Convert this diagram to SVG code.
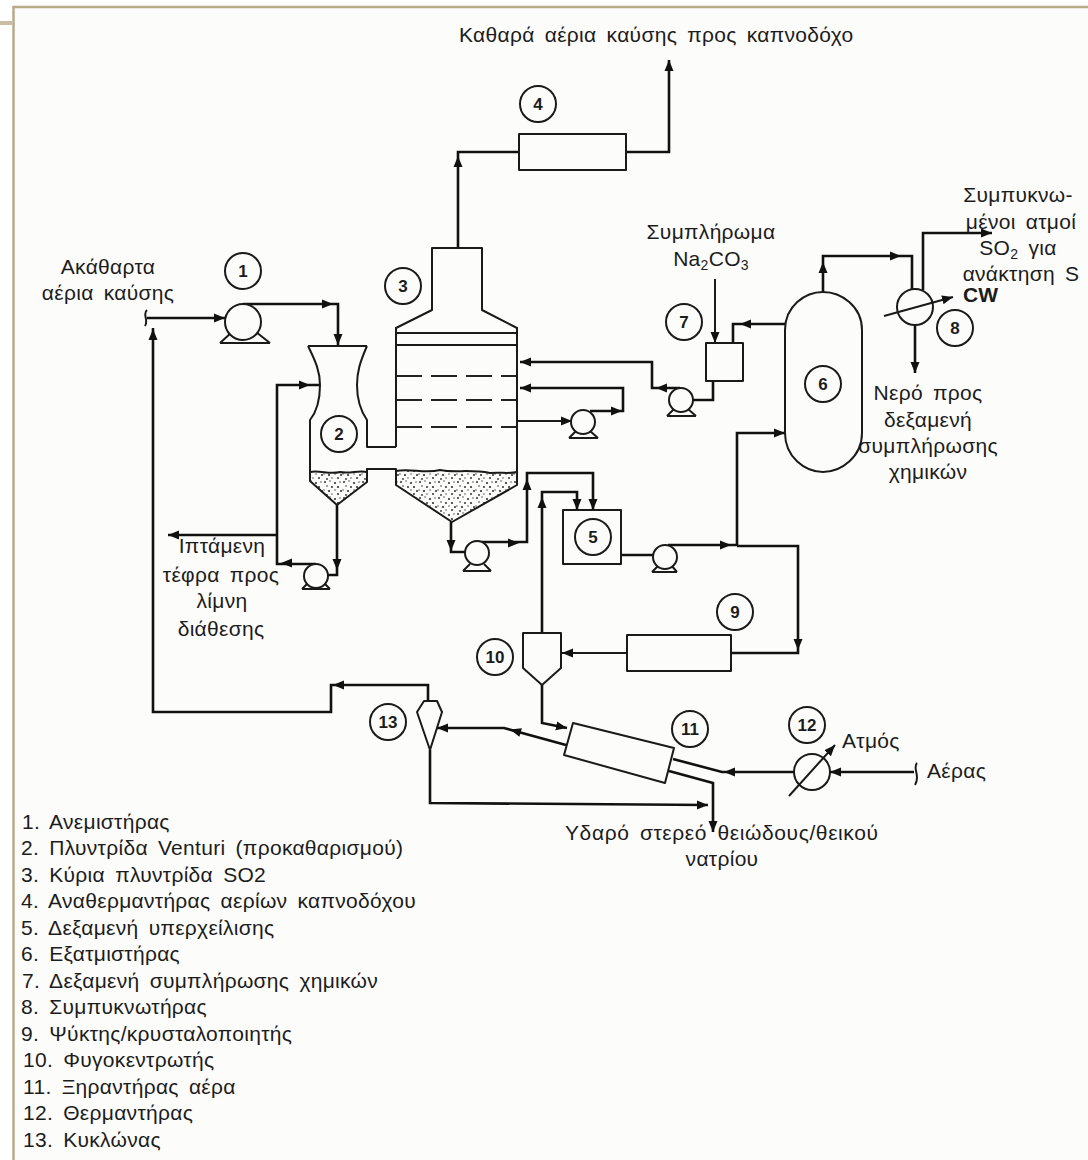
<svg xmlns="http://www.w3.org/2000/svg" width="1088" height="1160" viewBox="0 0 1088 1160">
<style>
text{font-family:"Liberation Sans","DejaVu Sans",sans-serif;font-size:21px;fill:#1c1c1c;letter-spacing:.3px;word-spacing:4px}
.m{text-anchor:middle}
.n{font-size:17px;text-anchor:middle;font-weight:bold;letter-spacing:0}
.s{fill:none;stroke:#1a1a1a;stroke-width:2;stroke-linejoin:round}
.c{fill:#fcfcfb;stroke:#1a1a1a;stroke-width:2}
.o{fill:none;stroke:#1a1a1a;stroke-width:2}
.p{fill:none;stroke:#111;stroke-width:2.6;stroke-linejoin:miter}
.d{fill:none;stroke:#222;stroke-width:2;stroke-dasharray:26 9}
.sub{font-size:14px}
</style>
<defs>
<path id="a" d="M-9-4.500L2 0L-9 4.500z" fill="#111"/>
<marker id="e" markerUnits="userSpaceOnUse" markerWidth="14" markerHeight="12" refX="11" refY="6" orient="auto"><path d="M0 1.500L11 6L0 10.500z" fill="#111"/></marker>
<pattern id="st" width="19" height="16" patternUnits="userSpaceOnUse">
<g fill="#333"><circle cx="2" cy="2" r="1"/><circle cx="7" cy="1" r=".7"/><circle cx="12" cy="3" r="1.100"/><circle cx="17" cy="2" r=".7"/><circle cx="4" cy="6" r=".8"/><circle cx="9" cy="7" r="1"/><circle cx="15" cy="7" r="1.100"/><circle cx="1" cy="10" r=".7"/><circle cx="6" cy="11" r="1.100"/><circle cx="12" cy="10" r=".7"/><circle cx="18" cy="11" r="1"/><circle cx="4" cy="15" r=".9"/><circle cx="9" cy="14" r=".7"/><circle cx="15" cy="14" r="1"/></g>
</pattern>
</defs>
<rect width="1088" height="1160" fill="#fff"/>
<rect x="14" y="8" width="1074" height="1152" fill="#fcfcfb"/>
<path d="M13.500 1160V7H1088" fill="none" stroke="#b9ab8a" stroke-width="2.500"/>
<path d="M0 23H13" fill="none" stroke="#cabfa5" stroke-width="4"/>

<g id="connectors">
<path class="p" d="M147 318H225" marker-end="url(#e)"/>
<path class="p" d="M243 304H338V345" marker-end="url(#e)"/>
<use href="#a" transform="translate(331 304)"/>
<path class="p" d="M153 328V712H331V685H428V701"/>
<use href="#a" transform="translate(153 331) rotate(-90)"/>
<use href="#a" transform="translate(335 685) rotate(180)"/>
<path class="p" d="M337 505V575H327"/>
<use href="#a" transform="translate(337 568) rotate(90)"/>
<path class="p" d="M316 564H277V385H320" />
<use href="#a" transform="translate(308 385)"/>
<use href="#a" transform="translate(283 563) rotate(180)"/>
<path class="p" d="M277 535H168" marker-end="url(#e)"/>
<path class="p" d="M451 522V552H465"/>
<use href="#a" transform="translate(451 549) rotate(90)"/>
<path class="p" d="M477 542H527V473H593V510" marker-end="url(#e)"/>
<use href="#a" transform="translate(517 543)"/>
<use href="#a" transform="translate(527 481) rotate(-90)"/>
<path class="p" d="M542 633V492H577V510" marker-end="url(#e)"/>
<use href="#a" transform="translate(542 499) rotate(-90)"/>
<path class="o" d="M517 421H572" marker-end="url(#e)"/>
<path class="p" d="M590 411H623V388H520" marker-end="url(#e)"/>
<use href="#a" transform="translate(620 411)"/>
<path class="p" d="M693 400H713V381"/>
<path class="p" d="M680 388H652V362H520" marker-end="url(#e)"/>
<use href="#a" transform="translate(658 388) rotate(180)"/>
<path class="o" d="M715 279V343" marker-end="url(#e)"/>
<path class="p" d="M785 324H733V343"/>
<use href="#a" transform="translate(742 324) rotate(180)"/>
<path class="p" d="M621 555H654"/>
<path class="p" d="M668 545H737V433H785" marker-end="url(#e)"/>
<use href="#a" transform="translate(729 545)"/>
<path class="p" d="M737 546H798V653H731"/>
<use href="#a" transform="translate(798 648) rotate(90)"/>
<path class="o" d="M627 653H562" marker-end="url(#e)"/>
<path class="p" d="M542 685V723L567 728" marker-end="url(#e)"/>
<path class="p" d="M566 745L504 728H437" marker-end="url(#e)"/>
<use href="#a" transform="translate(512 730) rotate(196)"/>
<path class="p" d="M795 772H722L673 759"/>
<use href="#a" transform="translate(726 772) rotate(180)"/>
<path class="p" d="M669 771L713 783V832" marker-end="url(#e)"/>
<path class="p" d="M430 750V803L708 805" marker-end="url(#e)"/>
<path class="p" d="M914 772H830" marker-end="url(#e)"/>
<path class="p" d="M823 292V256H912V290"/>
<use href="#a" transform="translate(823 264) rotate(-90)"/>
<use href="#a" transform="translate(899 256)"/>
<path class="p" d="M923 290V233H992" marker-end="url(#e)"/>
<path class="p" d="M915 325V373" marker-end="url(#e)"/>
<path class="o" d="M884 316L953 297" marker-end="url(#e)"/>
<path class="o" d="M789 796L835 745" marker-end="url(#e)"/>
<path class="p" d="M458 248V152H519"/>
<use href="#a" transform="translate(458 158) rotate(-90)"/>
<path class="p" d="M626 152H669V60" marker-end="url(#e)"/>
<path class="o" d="M147 310C142 314 149 320 145 326M917 763C912 768 921 776 915 785"/>
</g>

<g id="node-1"><path class="o" d="M220 343H270M220 343L232 332M270 343L256 332"/><circle class="c" cx="243" cy="322" r="18"/><circle class="o" cx="243" cy="271" r="18"/><text class="n" x="243" y="277">1</text></g>
<g id="node-2">
<path fill="url(#st)" d="M310 473C320 470 330 476 340 472C350 474 358 470 367 473V482L337 505L310 481z"/>
<path class="s" d="M308 346H367M308 346C316 362 320 372 320 385C320 398 318 410 310 420V481L337 505L367 482V468M367 346C360 362 357 372 357 385C357 398 360 410 367 420V447H396"/>
<path class="s" d="M310 472C320 470 330 475 340 472C350 474 358 470 367 472"/>
<circle class="o" cx="339" cy="434" r="18"/><text class="n" x="339" y="440">2</text></g>
<g id="node-3">
<path fill="url(#st)" d="M396 471C410 468 425 474 440 470C455 473 470 469 490 473C500 472 510 474 517 472V485L452 522L396 485z"/>
<path class="s" d="M396 447V328L432 310V248H482V310L517 328V485L452 522L396 485V469H367"/>
<path class="s" d="M396 471C410 468 425 474 440 470C455 473 470 469 490 473C500 472 510 474 517 472"/>
<path class="s" d="M396 333H517M396 345H517"/>
<path class="d" d="M396 376H517M396 400H517M396 427H517"/>
<circle class="o" cx="403" cy="286" r="18"/><text class="n" x="403" y="292">3</text></g>
<g id="node-4"><rect class="s" x="519" y="134" width="107" height="36"/><circle class="o" cx="538" cy="104" r="18"/><text class="n" x="538" y="110">4</text></g>
<g id="node-5"><rect class="s" x="563" y="510" width="58" height="54"/><circle class="o" cx="593" cy="537" r="18"/><text class="n" x="593" y="543">5</text></g>
<g id="node-6"><path class="c" d="M785 330C785 306 805 292 823 292C841 292 862 306 862 330V433C862 457 841 472 823 472C805 472 785 457 785 433z"/><circle class="o" cx="823" cy="384" r="18"/><text class="n" x="823" y="390">6</text></g>
<g id="node-7"><rect class="s" x="706" y="343" width="37" height="38"/><circle class="o" cx="684" cy="322" r="18"/><text class="n" x="684" y="328">7</text></g>
<g id="node-8"><circle class="o" cx="915" cy="307" r="18"/><circle class="o" cx="955" cy="328" r="18"/><text class="n" x="955" y="334">8</text></g>
<g id="node-9"><rect class="s" x="627" y="635" width="104" height="36"/><circle class="o" cx="735" cy="612" r="18"/><text class="n" x="735" y="618">9</text></g>
<g id="node-10"><path class="s" d="M523 633H561V668L542 685L523 668z"/><circle class="o" cx="495" cy="657" r="18"/><text class="n" x="495" y="663">10</text></g>
<g id="node-11"><path class="s" d="M573 723L674 748L665 783L564 755z"/><circle class="o" cx="690" cy="729" r="18"/><text class="n" x="690" y="735">11</text></g>
<g id="node-12"><circle class="o" cx="812" cy="772" r="18"/><circle class="o" cx="807" cy="725" r="18"/><text class="n" x="807" y="731">12</text></g>
<g id="node-13"><path class="s" d="M424 701H437L442 712L430 750L417 712z"/><circle class="o" cx="388" cy="722" r="18"/><text class="n" x="388" y="728">13</text></g>
<g id="pump-a"><path class="o" d="M569 438H598M569 438L576 431M598 438L590 431"/><circle class="c" cx="583" cy="422" r="12"/></g>
<g id="pump-b"><path class="o" d="M667 416H696M667 416L674 409M696 416L688 409"/><circle class="c" cx="681" cy="400" r="12"/></g>
<g id="pump-c"><path class="o" d="M302 589H330M302 589L309 582M330 589L323 582"/><circle class="c" cx="316" cy="576" r="12"/></g>
<g id="pump-d"><path class="o" d="M463 571H491M463 571L470 564M491 571L484 564"/><circle class="c" cx="477" cy="553" r="12"/></g>
<g id="pump-e"><path class="o" d="M652 572H677M652 572L659 565M677 572L671 565"/><circle class="c" cx="665" cy="557" r="12"/></g>

<g id="labels">
<text x="459" y="42">Καθαρά αέρια καύσης προς καπνοδόχο</text>
<text class="m" x="108" y="274">Ακάθαρτα</text>
<text class="m" x="108" y="300">αέρια καύσης</text>
<text class="m" x="711" y="239">Συμπλήρωμα</text>
<text class="m" x="711" y="266">Na<tspan class="sub" dy="4">2</tspan><tspan dy="-4">CO</tspan><tspan class="sub" dy="4">3</tspan></text>
<text class="m" x="1018" y="202">Συμπυκνω-</text>
<text class="m" x="1021" y="229">μένοι ατμοί</text>
<text class="m" x="1018" y="255">SO<tspan class="sub" dy="4">2</tspan><tspan dy="-4"> για</tspan></text>
<text class="m" x="1021" y="281">ανάκτηση S</text>
<text x="963" y="302" style="font-weight:bold;letter-spacing:0">CW</text>
<text class="m" x="928" y="400">Νερό προς</text>
<text class="m" x="928" y="427">δεξαμενή</text>
<text class="m" x="928" y="453">συμπλήρωσης</text>
<text class="m" x="928" y="479">χημικών</text>
<text class="m" x="222" y="553">Ιπτάμενη</text>
<text class="m" x="221" y="582">τέφρα προς</text>
<text class="m" x="222" y="608">λίμνη</text>
<text class="m" x="221" y="636">διάθεσης</text>
<text x="842" y="748">Ατμός</text>
<text x="927" y="778">Αέρας</text>
<text x="565" y="840" style="letter-spacing:.6px">Υδαρό στερεό θειώδους/θεικού</text>
<text class="m" x="722" y="866">νατρίου</text>
<text x="22" y="829">1. Ανεμιστήρας</text>
<text x="21" y="855">2. Πλυντρίδα Venturi (προκαθαρισμού)</text>
<text x="21" y="882">3. Κύρια πλυντρίδα SO2</text>
<text x="21" y="908">4. Αναθερμαντήρας αερίων καπνοδόχου</text>
<text x="21" y="935">5. Δεξαμενή υπερχείλισης</text>
<text x="21" y="961">6. Εξατμιστήρας</text>
<text x="22" y="988">7. Δεξαμενή συμπλήρωσης χημικών</text>
<text x="21" y="1014">8. Συμπυκνωτήρας</text>
<text x="21" y="1041">9. Ψύκτης/κρυσταλοποιητής</text>
<text x="23" y="1067">10. Φυγοκεντρωτής</text>
<text x="23" y="1094">11. Ξηραντήρας αέρα</text>
<text x="23" y="1120">12. Θερμαντήρας</text>
<text x="23" y="1147">13. Κυκλώνας</text>
</g>
</svg>
